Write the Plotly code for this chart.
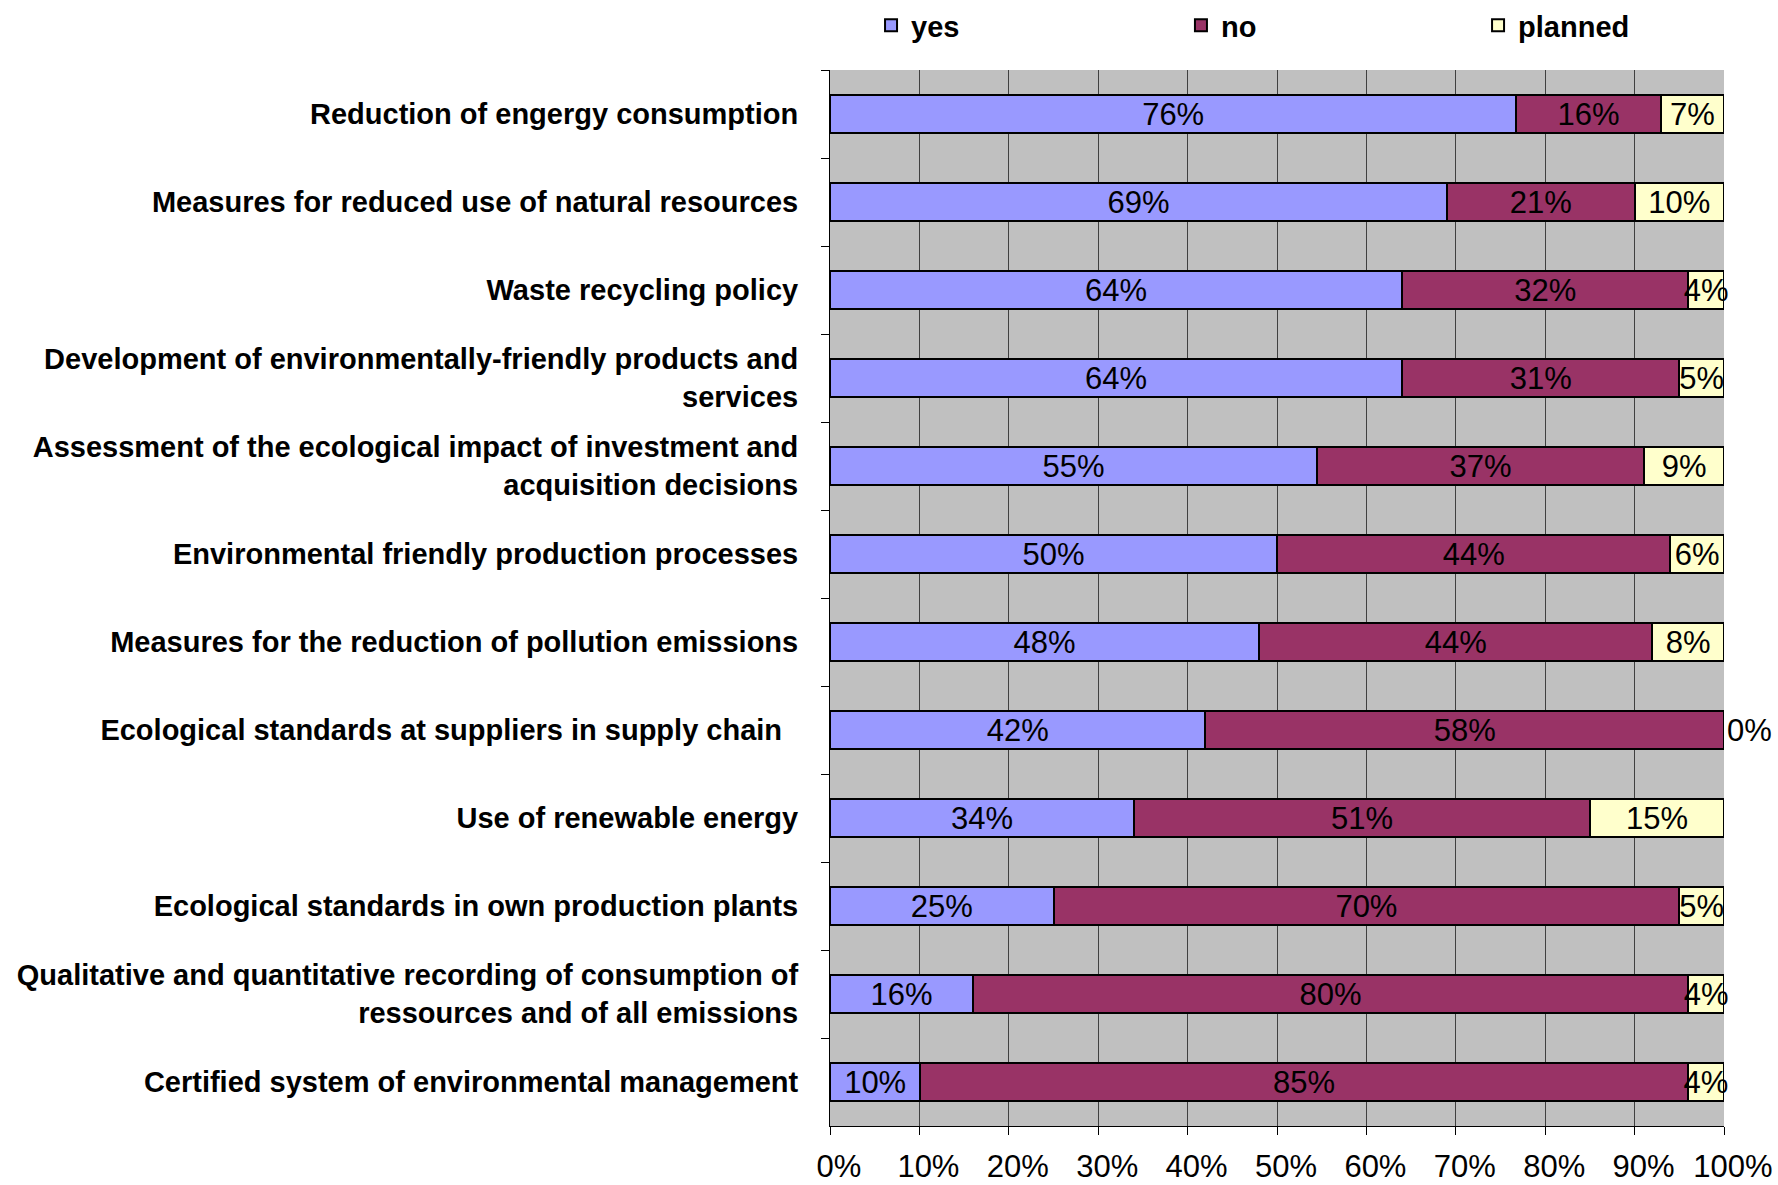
import plotly.graph_objects as go

categories = [
    "Reduction of engergy consumption",
    "Measures for reduced use of natural resources",
    "Waste recycling policy",
    "Development of environmentally-friendly products and<br>services",
    "Assessment of the ecological impact of investment and<br>acquisition decisions",
    "Environmental friendly production processes",
    "Measures for the reduction of pollution emissions",
    "Ecological standards at suppliers in supply chain  ",
    "Use of renewable energy",
    "Ecological standards in own production plants",
    "Qualitative and quantitative recording of consumption of<br>ressources and of all emissions",
    "Certified system of environmental management",
]
yes = [76, 69, 64, 64, 55, 50, 48, 42, 34, 25, 16, 10]
no = [16, 21, 32, 31, 37, 44, 44, 58, 51, 70, 80, 85]
planned = [7, 10, 4, 5, 9, 6, 8, 0, 15, 5, 4, 4]
tick_vals = [0, 10, 20, 30, 40, 50, 60, 70, 80, 90, 100]
tick_text = ["0%", "10%", "20%", "30%", "40%", "50%", "60%", "70%", "80%", "90%", "100%"]

series = [
    ("yes", yes, "#9999FF", "legend"),
    ("no", no, "#993366", "legend2"),
    ("planned", planned, "#FFFFCC", "legend3"),
]
legend_x = {"legend": 0.4899, "legend2": 0.6642, "legend3": 0.8313}
FONT = "Liberation Sans, Arial, sans-serif"

fig = go.Figure()
for name, vals, color, lg in series:
    fig.add_trace(go.Bar(
        y=categories, x=vals, name=name, orientation="h", legend=lg,
        showlegend=True,
        marker=dict(color=color, line=dict(color="black", width=2)),
        text=[f"{v}%" for v in vals],
        textposition=["outside" if v == 0 else "inside" for v in vals],
        insidetextanchor="middle",
        textangle=0,
        constraintext="none",
        cliponaxis=False,
        textfont=dict(family=FONT, size=31, color="black"),
        insidetextfont=dict(family=FONT, size=31, color="black"),
        outsidetextfont=dict(family=FONT, size=31, color="black"),
    ))

def legend_style(x):
    return dict(
        orientation="h",
        xref="container", yref="container",
        x=x, y=1.0, xanchor="left", yanchor="top",
        font=dict(size=29, family=FONT, weight="bold"),
        bgcolor="rgba(0,0,0,0)",
    )

fig.update_layout(
    showlegend=True,
    barmode="stack",
    barnorm="percent",
    bargap=0.57,
    width=1778, height=1185,
    margin=dict(l=830, r=54, t=70, b=59, autoexpand=False),
    paper_bgcolor="white",
    plot_bgcolor="#C0C0C0",
    font=dict(family=FONT, color="black"),
    legend=legend_style(legend_x["legend"]),
    legend2=legend_style(legend_x["legend2"]),
    legend3=legend_style(legend_x["legend3"]),
)
fig.update_xaxes(
    range=[0, 100.0001], tickvals=tick_vals, ticktext=tick_text,
    showgrid=True, gridcolor="#404040", gridwidth=1,
    showline=True, linecolor="black", linewidth=1,
    ticks="outside", ticklen=8, tickcolor="black",
    tickfont=dict(size=31), ticklabelstandoff=5, ticklabelshift=9,
    zeroline=False,
)
fig.update_yaxes(
    categoryorder="array", categoryarray=categories, autorange="reversed",
    showline=True, linecolor="black", linewidth=1,
    ticks="outside", ticklen=8, tickcolor="black", tickson="boundaries",
    tickfont=dict(size=29, weight="bold"), ticklabelstandoff=25,
    showgrid=False,
)
fig.write_html(
    "out.html",
    config={"displayModeBar": False},
    post_script="document.body.style.margin='0px';document.body.style.overflow='hidden';",
)
